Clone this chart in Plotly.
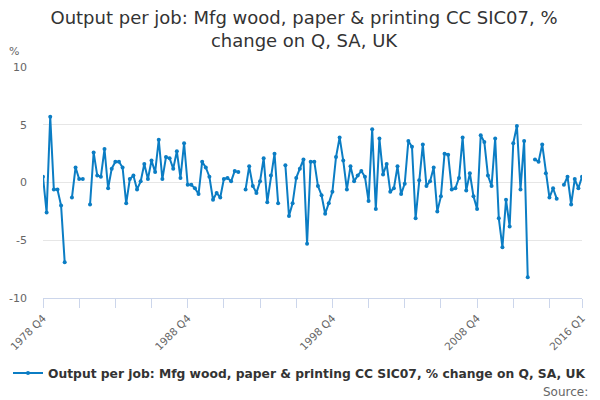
import plotly.graph_objects as go

# quarterly % change, 1978 Q4 .. 2016 Q1 (None = missing)
values = [
    0.5, -2.6, 5.7, -0.6, -0.6, -2.0, -6.9, None, -1.3, 1.3,
    0.3, 0.3, None, -1.9, 2.6, 0.6, 0.5, 2.9, -0.5, 1.2,
    1.8, 1.8, 1.3, -1.8, 0.3, 0.6, -0.6, 0.1, 1.6, 0.3,
    1.9, 0.9, 3.7, 0.3, 2.2, 2.1, 1.2, 2.7, 0.4, 3.4,
    -0.2, -0.2, -0.5, -1.0, 1.8, 1.3, 0.5, -1.5, -0.9, -1.3,
    0.3, 0.4, 0.1, 1.0, 0.9, None, -0.6, 1.4, -0.3, -0.9,
    0.1, 2.1, -1.7, 0.6, 2.5, -1.8, None, 1.5, -2.9, -1.8,
    0.4, 1.2, 2.0, -5.3, 1.8, 1.8, -0.3, -1.1, -2.7, -1.8,
    -0.8, 2.2, 3.9, 1.9, -0.6, 1.4, 0.1, 0.6, 1.0, 0.5,
    -1.6, 4.6, -2.3, 3.8, 0.7, 1.6, -0.8, -0.5, 1.4, -1.0,
    -0.1, 3.6, 3.1, -3.1, 0.2, 3.3, -0.3, 0.1, 1.3, -2.5,
    -1.2, 2.5, 2.4, -0.6, -0.5, 0.4, 3.9, -0.7, 0.8, -1.2,
    -2.3, 4.1, 3.5, 0.6, -0.3, 3.8, -3.1, -5.6, -1.5, -3.8,
    3.4, 4.9, -0.6, 3.6, -8.2, None, 2.0, 1.8, 3.3, 0.8,
    -1.3, -0.5, -1.4, None, -0.2, 0.5, -1.9, 0.3, -0.5, 0.5,
]

quarters = ["1978 Q4"] + [f"{y} Q{q}" for y in range(1979, 2017) for q in range(1, 5)]
quarters = quarters[:len(values)]

tick_quarters = [quarters[i] for i in range(0, len(quarters), 10)] + [quarters[-1]]
labelled = ["1978 Q4", "1988 Q4", "1998 Q4", "2008 Q4", "2016 Q1"]
tick_text = [q if q in labelled else "" for q in tick_quarters]

y_ticks = [-10, -5, 0, 5, 10]
y_tick_text = ["-10", "-5", "0", "5", "10"]

series_name = "Output per job: Mfg wood, paper & printing CC SIC07, % change on Q, SA, UK"
line_color = "#0b7dc4"
font = "DejaVu Sans"

fig = go.Figure()
fig.add_trace(go.Scatter(
    x=quarters, y=values,
    mode="lines+markers",
    name=series_name,
    connectgaps=False,
    line=dict(color=line_color, width=2),
    marker=dict(color=line_color, size=4),
))

# page body has an 8px margin, so the figure is sized to the visible area
fig.update_layout(
    width=592, height=392,
    margin=dict(l=35, r=18, t=59, b=102),
    paper_bgcolor="white",
    plot_bgcolor="white",
    font=dict(family=font, color="#666666", size=11),
    title=dict(
        text="Output per job: Mfg wood, paper & printing CC SIC07, %<br>change on Q, SA, UK",
        x=0.5, xanchor="center", y=0.959, yanchor="middle",
        font=dict(family=font, size=18, color="#333333"),
    ),
    showlegend=True,
    legend=dict(
        orientation="h",
        xref="container", yref="container",
        x=-0.022, y=0.069, xanchor="left", yanchor="middle",
        font=dict(family=font, size=12.3, color="#333333", weight="bold"),
    ),
    xaxis=dict(
        type="category",
        categoryorder="array", categoryarray=quarters,
        range=[0, len(quarters) - 1],
        tickvals=tick_quarters, ticktext=tick_text,
        tickangle=-45,
        ticks="outside", ticklen=9, tickcolor="#ccd6eb",
        showline=True, linecolor="#ccd6eb", linewidth=1,
        showgrid=False, zeroline=False, automargin=False,
        tickfont=dict(size=10.5, color="#666666"),
    ),
    yaxis=dict(
        range=[-10, 10],
        tickvals=y_ticks, ticktext=y_tick_text,
        showgrid=True, gridcolor="#e6e6e6",
        zeroline=False, showline=False, automargin=False,
        ticks="", ticklabelstandoff=15,
        tickfont=dict(size=11, color="#666666"),
    ),
    annotations=[
        dict(text="%", xref="paper", yref="paper", x=-0.054, y=1.065,
             xanchor="center", yanchor="middle", showarrow=False,
             font=dict(family=font, size=11, color="#666666")),
        dict(text="Source:", xref="paper", yref="paper", x=1.015, y=-0.407,
             xanchor="right", yanchor="middle", showarrow=False,
             font=dict(family=font, size=12, color="#666666")),
    ],
)

fig.write_html("out.html")
